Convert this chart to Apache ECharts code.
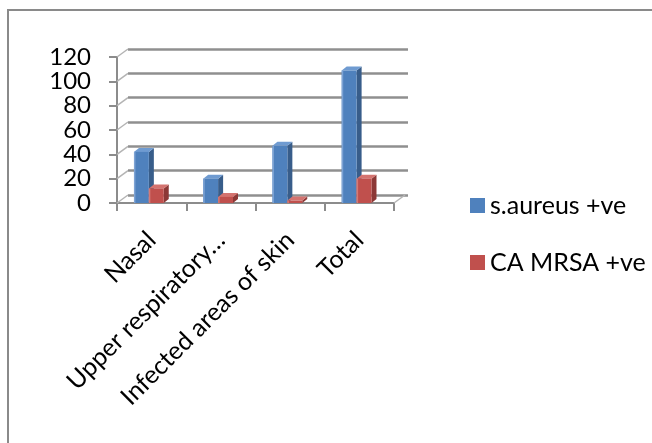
<!DOCTYPE html>
<html>
<head>
<meta charset="utf-8">
<script src="https://cdn.jsdelivr.net/npm/echarts@6/dist/echarts.min.js"></script>
<style>
  html, body { margin: 0; padding: 0; background: #fff; }
  #chart { width: 652px; height: 443px; }
</style>
</head>
<body>
<div id="chart"></div>
<script>
// Sample sites and positive counts
const categories = ['Nasal', 'Upper respiratory…', 'Infected areas of skin', 'Total'];
const aureusValues = [42, 20, 47, 109];
const mrsaValues = [12, 5, 2, 20];
const seriesNames = ['s.aureus +ve', 'CA MRSA +ve'];
const yTicks = [0, 20, 40, 60, 80, 100, 120];

const FONT = 'Lato';
const AXIS_GREY = '#8c8c8c';

// Pseudo-3D column: front face, darker side face, lighter top face
function columnRenderer(offsetRatio, widthRatio, colors) {
  const dx = 5, dy = -4;
  return function (params, api) {
    const cat = api.value(0);
    const val = api.value(1);
    const top = api.coord([cat, val]);
    const base = api.coord([cat, 0]);
    const band = api.size([1, 0])[0];
    const w = band * widthRatio;
    const x0 = top[0] + band * offsetRatio;
    const x1 = x0 + w;
    const yt = top[1], yb = base[1];
    return {
      type: 'group',
      children: [
        {
          type: 'polygon',
          shape: { points: [[x1, yt], [x1 + dx, yt + dy], [x1 + dx, yb + dy], [x1, yb]] },
          style: { fill: colors.side }
        },
        {
          type: 'polygon',
          shape: { points: [[x0, yt], [x0 + dx, yt + dy], [x1 + dx, yt + dy], [x1, yt]] },
          style: { fill: colors.top }
        },
        {
          type: 'rect',
          shape: { x: x0, y: yt, width: w, height: yb - yt },
          style: { fill: colors.front }
        },
        {
          type: 'rect',
          shape: { x: x0, y: yt, width: 1.5, height: yb - yt },
          style: { fill: colors.edge }
        }
      ]
    };
  };
}

// Depth lines joining the front value axis to the back wall
function depthRenderer(params, api) {
  const v = api.value(0);
  const p = api.coord([0, v]);
  const band = api.size([1, 0])[0];
  const x = p[0] - band / 2;
  const lines = [{
    type: 'line',
    shape: { x1: x, y1: p[1], x2: x + 11, y2: p[1] - 8 },
    style: { stroke: '#b4b4b4', lineWidth: 1.5 }
  }];
  if (v === 0) {
    const xr = api.coord([categories.length - 1, 0])[0] + band / 2;
    lines.push({
      type: 'line',
      shape: { x1: xr, y1: p[1], x2: xr + 11, y2: p[1] - 8 },
      style: { stroke: '#b4b4b4', lineWidth: 1.5 }
    });
  }
  return { type: 'group', children: lines };
}

const blue = { front: '#4f81bd', side: '#385d8a', top: '#6f9bd1', edge: '#7ea3d4' };
const red = { front: '#c0504d', side: '#8c3836', top: '#d4736f', edge: '#d47a77' };

const chart = echarts.init(document.getElementById('chart'), null, { renderer: 'canvas' });

chart.setOption({
  backgroundColor: '#ffffff',
  animation: false,
  textStyle: { fontFamily: FONT },
  graphic: [{
    type: 'rect',
    shape: { x: 8, y: 10, width: 700, height: 500 },
    style: { fill: 'none', stroke: '#8a8a8a', lineWidth: 2 },
    silent: true,
    z: 100
  }],
  legend: {
    orient: 'vertical',
    left: 465,
    top: 188,
    itemWidth: 15,
    itemHeight: 15,
    itemGap: 32,
    icon: 'rect',
    textStyle: { fontFamily: FONT, fontSize: 25, color: '#000' },
    data: [
      { name: seriesNames[0], itemStyle: { color: blue.front } },
      { name: seriesNames[1], itemStyle: { color: red.front } }
    ]
  },
  grid: [
    { left: 117, top: 57, width: 277, height: 146 },
    { left: 128, top: 49, width: 280, height: 146 }
  ],
  xAxis: [
    {
      type: 'category',
      gridIndex: 0,
      data: categories,
      axisLine: { lineStyle: { color: AXIS_GREY, width: 2 } },
      axisTick: { show: true, length: 8, lineStyle: { color: AXIS_GREY, width: 2 } },
      axisLabel: {
        rotate: 45,
        margin: 33,
        fontFamily: FONT,
        fontSize: 25,
        color: '#000',
        interval: 0
      }
    },
    {
      type: 'category',
      gridIndex: 1,
      data: categories,
      show: false
    }
  ],
  yAxis: [
    {
      type: 'value',
      gridIndex: 0,
      min: 0,
      max: 120,
      interval: 20,
      axisLine: { show: true, lineStyle: { color: AXIS_GREY, width: 2 } },
      axisTick: { show: true, length: 8, lineStyle: { color: AXIS_GREY, width: 2 } },
      splitLine: { show: false },
      axisLabel: {
        margin: 26,
        fontFamily: FONT,
        fontSize: 24,
        color: '#000',
        showMinLabel: true,
        showMaxLabel: true,
        hideOverlap: false
      }
    },
    {
      type: 'value',
      gridIndex: 1,
      min: 0,
      max: 120,
      interval: 20,
      axisLine: { show: false },
      axisTick: { show: false },
      axisLabel: { show: false },
      splitLine: { show: true, lineStyle: { color: '#8f8f8f', width: 2.5 } }
    }
  ],
  series: [
    {
      type: 'custom',
      name: 'depth',
      xAxisIndex: 0,
      yAxisIndex: 0,
      silent: true,
      z: 1,
      data: yTicks.map(v => [v]),
      encode: { y: 0 },
      renderItem: depthRenderer
    },
    {
      type: 'custom',
      name: seriesNames[0],
      xAxisIndex: 0,
      yAxisIndex: 0,
      z: 3,
      data: aureusValues.map((v, i) => [i, v]),
      encode: { x: 0, y: 1 },
      renderItem: columnRenderer(-0.255, 0.215, blue)
    },
    {
      type: 'custom',
      name: seriesNames[1],
      xAxisIndex: 0,
      yAxisIndex: 0,
      z: 4,
      data: mrsaValues.map((v, i) => [i, v]),
      encode: { x: 0, y: 1 },
      renderItem: columnRenderer(-0.04, 0.215, red)
    }
  ]
});
</script>
</body>
</html>
